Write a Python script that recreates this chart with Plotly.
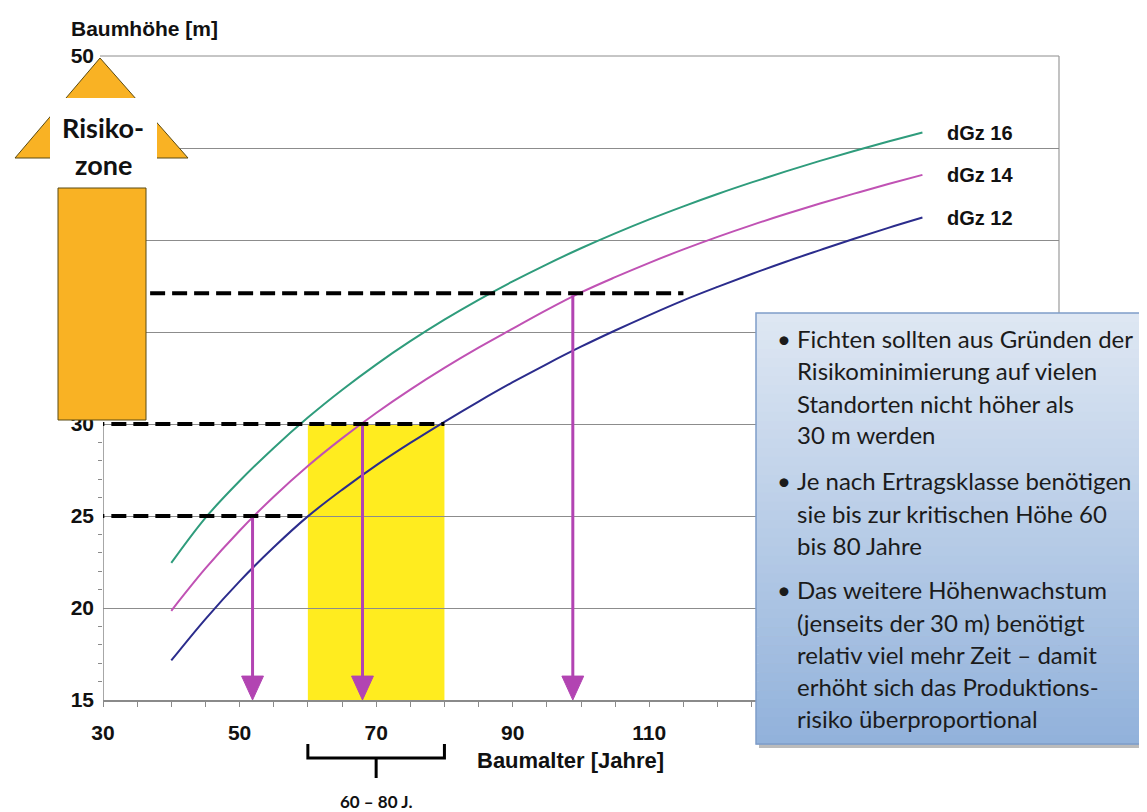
import plotly.graph_objects as go

# ---------------- data ----------------
ages = [40, 45, 50, 55, 60, 65, 70, 75, 80, 85, 90, 95, 100, 105, 110, 115, 120, 125, 130, 135, 140, 145, 150]
dgz16 = [22.45, 24.9, 26.9, 28.7, 30.35, 31.85, 33.23, 34.5, 35.67, 36.75, 37.75, 38.68, 39.55, 40.36, 41.12, 41.83, 42.5, 43.13, 43.73, 44.3, 44.84, 45.35, 45.84]
dgz14 = [19.85, 22.15, 24.2, 26.05, 27.72, 29.22, 30.6, 31.87, 33.05, 34.15, 35.18, 36.2, 37.15, 37.98, 38.76, 39.49, 40.17, 40.81, 41.41, 41.98, 42.52, 43.04, 43.54]
dgz12 = [17.15, 19.4, 21.45, 23.3, 24.98, 26.42, 27.75, 28.97, 30.12, 31.22, 32.27, 33.26, 34.2, 35.08, 35.92, 36.72, 37.45, 38.15, 38.82, 39.45, 40.07, 40.66, 41.22]
series_names = ["dGz 16", "dGz 14", "dGz 12"]
series_colors = ["#2f9c7c", "#c052b4", "#2b2c8c"]

arrow_ages = [51.9, 68.0, 98.8]
arrow_heights = [25.0, 30.0, 37.1]
dash_heights = [25.0, 30.0, 37.1]
dash_starts = [28.0, 28.0, 36.9]
dash_ends = [60.0, 80.0, 115.0]
crit_span = [60, 80]
span_label = "60 – 80 J."

x_tick_vals = [30, 50, 70, 90, 110]
x_minor_vals = [35, 40, 45, 55, 60, 65, 75, 80, 85, 95, 100, 105, 115, 120, 125, 130, 135, 140, 145, 150, 155, 160, 165, 170]
y_grid_vals = [15, 20, 25, 30, 35, 40, 45, 50]
y_grid_text = ["15", "20", "25", "30", "", "", "", "50"]
y_minor_vals = [16, 17, 18, 19, 21, 22, 23, 24, 26, 27, 28, 29]

box_paragraphs = [
    ["Fichten sollten aus Gründen der", "Risikominimierung auf vielen", "Standorten nicht höher als", "30 m werden"],
    ["Je nach Ertragsklasse benötigen", "sie bis zur kritischen Höhe 60", "bis 80 Jahre"],
    ["Das weitere Höhenwachstum", "(jenseits der 30 m) benötigt", "relativ viel mehr Zeit – damit", "erhöht sich das Produktions-", "risiko überproportional"],
]

# ---------------- layout helpers (screen pixel -> paper) ----------------
OFF = 8                      # page body margin
L, R, T, B = 103, 1059, 56, 700   # plot area in screen pixels
W, H = 1147 - OFF, 812 - OFF
def fx(p):
    return (p - L) / (R - L)
def fy(p):
    return (B - p) / (B - T)

fig = go.Figure()

for name, col, ys in zip(series_names, series_colors, [dgz16, dgz14, dgz12]):
    fig.add_trace(go.Scatter(x=ages, y=ys, mode="lines", name=name,
                             line=dict(color=col, width=2, shape="spline"),
                             hoverinfo="skip", showlegend=False))
    fig.add_annotation(x=ages[-1] + 3.3, y=ys[-1], xref="x", yref="y", text=name,
                       showarrow=False, xanchor="left", yanchor="middle",
                       font=dict(family="Liberation Sans", size=20, color="#111", weight="bold"))

shapes = []
# yellow critical span
shapes.append(dict(type="rect", xref="x", yref="y", x0=crit_span[0], x1=crit_span[1], y0=15, y1=30,
                   fillcolor="#FFEC1F", line=dict(width=0), layer="below"))
# y axis line (lower part only), top line and right frame
shapes.append(dict(type="line", xref="x", yref="y", x0=30, x1=30, y0=15, y1=30,
                   line=dict(color="#8a8a8a", width=1.5), layer="above"))
shapes.append(dict(type="line", xref="paper", yref="paper", x0=fx(100), x1=1, y0=1, y1=1,
                   line=dict(color="#8c8c8c", width=1), layer="below"))
shapes.append(dict(type="line", xref="paper", yref="paper", x0=1, x1=1, y0=0, y1=1,
                   line=dict(color="#9a9a9a", width=1.2), layer="below"))
# dashed guide lines
for h, a, b in zip(dash_heights, dash_starts, dash_ends):
    shapes.append(dict(type="line", xref="x", yref="y", x0=a, x1=b, y0=h, y1=h,
                       line=dict(color="black", width=4, dash="15px,7px"), layer="above"))
# arrows
head_h, head_w = 1.3, 1.6
for a, h in zip(arrow_ages, arrow_heights):
    shapes.append(dict(type="line", xref="x", yref="y", x0=a, x1=a, y0=h - 0.1, y1=15 + head_h,
                       line=dict(color="#b244b2", width=3), layer="above"))
    shapes.append(dict(type="path", xref="x", yref="y",
                       path=f"M{a - head_w},{15 + head_h} L{a + head_w},{15 + head_h} L{a},15 Z",
                       fillcolor="#b244b2", line=dict(color="#b244b2", width=1), layer="above"))
# brace under the axis
bx0, bx1 = crit_span
bm = (bx0 + bx1) / 2
shapes.append(dict(type="path", xref="x", yref="paper",
                   path=f"M{bx0},{fy(744)} L{bx0},{fy(758)} L{bx1},{fy(758)} L{bx1},{fy(744)}",
                   line=dict(color="black", width=3), layer="above"))
shapes.append(dict(type="line", xref="x", yref="paper", x0=bm, x1=bm, y0=fy(758), y1=fy(778),
                   line=dict(color="black", width=3), layer="above"))

# Risikozone arrow
shapes.append(dict(type="rect", xref="paper", yref="paper", x0=fx(58), x1=fx(146), y0=fy(420), y1=fy(188),
                   fillcolor="#F9B224", line=dict(color="#5b4a12", width=1), layer="above"))
shapes.append(dict(type="path", xref="paper", yref="paper",
                   path=f"M{fx(15)},{fy(158)} L{fx(100)},{fy(58)} L{fx(188)},{fy(158)} Z",
                   fillcolor="#F9B224", line=dict(color="#5b4a12", width=1), layer="above"))
shapes.append(dict(type="rect", xref="paper", yref="paper", x0=fx(50), x1=fx(157), y0=fy(186), y1=fy(98),
                   fillcolor="white", line=dict(width=0), layer="above"))

# text box with gradient
bx_l, bx_r, bx_t, bx_b = 756, 1145, 313, 744
shapes.append(dict(type="rect", xref="paper", yref="paper", x0=fx(bx_l + 3), x1=fx(bx_r + 2), y0=fy(bx_b + 4), y1=fy(bx_t + 3),
                   fillcolor="rgba(60,60,60,0.35)", line=dict(width=0), layer="above"))
n = 48
top_c = (222, 231, 243)
bot_c = (146, 178, 219)
step = (bx_b - bx_t) / n
for i in range(n):
    t = i / (n - 1)
    c = tuple(int(round(top_c[k] + (bot_c[k] - top_c[k]) * t)) for k in range(3))
    shapes.append(dict(type="rect", xref="paper", yref="paper", x0=fx(bx_l), x1=fx(bx_r),
                       y0=fy(bx_t + (i + 1) * step + 0.6), y1=fy(bx_t + i * step),
                       fillcolor=f"rgb{c}", line=dict(width=0), layer="above"))
shapes.append(dict(type="rect", xref="paper", yref="paper", x0=fx(bx_l), x1=fx(bx_r), y0=fy(bx_b), y1=fy(bx_t),
                   fillcolor="rgba(0,0,0,0)", line=dict(color="#7f9dc9", width=1.5), layer="above"))

fig.update_layout(shapes=shapes)

ann_font = dict(family="Lato", size=24, color="#1b1b1b")
line_y = [[338, 371, 403, 435], [480, 513, 545], [589, 622, 654, 686, 718]]
for para, ys in zip(box_paragraphs, line_y):
    fig.add_annotation(x=fx(775), y=fy(ys[0]), xref="paper", yref="paper", text="•", showarrow=False,
                       xanchor="left", yanchor="middle", font=ann_font)
    for txt, yy in zip(para, ys):
        fig.add_annotation(x=fx(795), y=fy(yy), xref="paper", yref="paper", text=txt, showarrow=False,
                           xanchor="left", yanchor="middle", font=ann_font)

bold_font = dict(family="Liberation Sans", color="#111", weight="bold")
fig.add_annotation(x=fx(144), y=fy(28), xref="paper", yref="paper", text="Baumhöhe [m]", showarrow=False,
                   xanchor="center", yanchor="middle", font=dict(size=21, **bold_font))
fig.add_annotation(x=fx(570), y=fy(760), xref="paper", yref="paper", text="Baumalter [Jahre]", showarrow=False,
                   xanchor="center", yanchor="middle", font=dict(size=22, **bold_font))
fig.add_annotation(x=bm, y=fy(801), xref="x", yref="paper", text=span_label, showarrow=False,
                   xanchor="center", yanchor="middle", font=dict(family="Lato", size=17, color="#111", weight="bold"))
risk_font = dict(family="Lato", size=27, color="#111", weight="bold")
fig.add_annotation(x=fx(103), y=fy(127), xref="paper", yref="paper", text="Risiko-", showarrow=False,
                   xanchor="center", yanchor="middle", font=risk_font)
fig.add_annotation(x=fx(103), y=fy(164), xref="paper", yref="paper", text="zone", showarrow=False,
                   xanchor="center", yanchor="middle", font=risk_font)

fig.update_layout(
    width=W, height=H,
    margin=dict(l=L - OFF, r=W - (R - OFF), t=T - OFF, b=H - (B - OFF)),
    paper_bgcolor="white", plot_bgcolor="white",
    xaxis=dict(range=[30, 170], tickmode="array", tickvals=x_tick_vals,
               ticks="outside", ticklen=5, tickcolor="#8a8a8a", showgrid=False, zeroline=False,
               showline=True, linecolor="#8a8a8a", linewidth=1.5, ticklabelstandoff=8,
               tickfont=dict(size=21, **bold_font),
               minor=dict(tickmode="array", tickvals=x_minor_vals, ticks="outside", ticklen=5,
                          tickcolor="#8a8a8a", showgrid=False)),
    yaxis=dict(range=[15, 50], tickmode="array", tickvals=y_grid_vals, ticktext=y_grid_text,
               ticks="", showgrid=True, gridcolor="#8c8c8c", gridwidth=1, zeroline=False,
               showline=False, ticklabelstandoff=8,
               tickfont=dict(size=21, **bold_font),
               minor=dict(tickmode="array", tickvals=y_minor_vals, ticks="outside", ticklen=4,
                          tickcolor="#8a8a8a", showgrid=False)),
)

fig.write_html("out.html")
